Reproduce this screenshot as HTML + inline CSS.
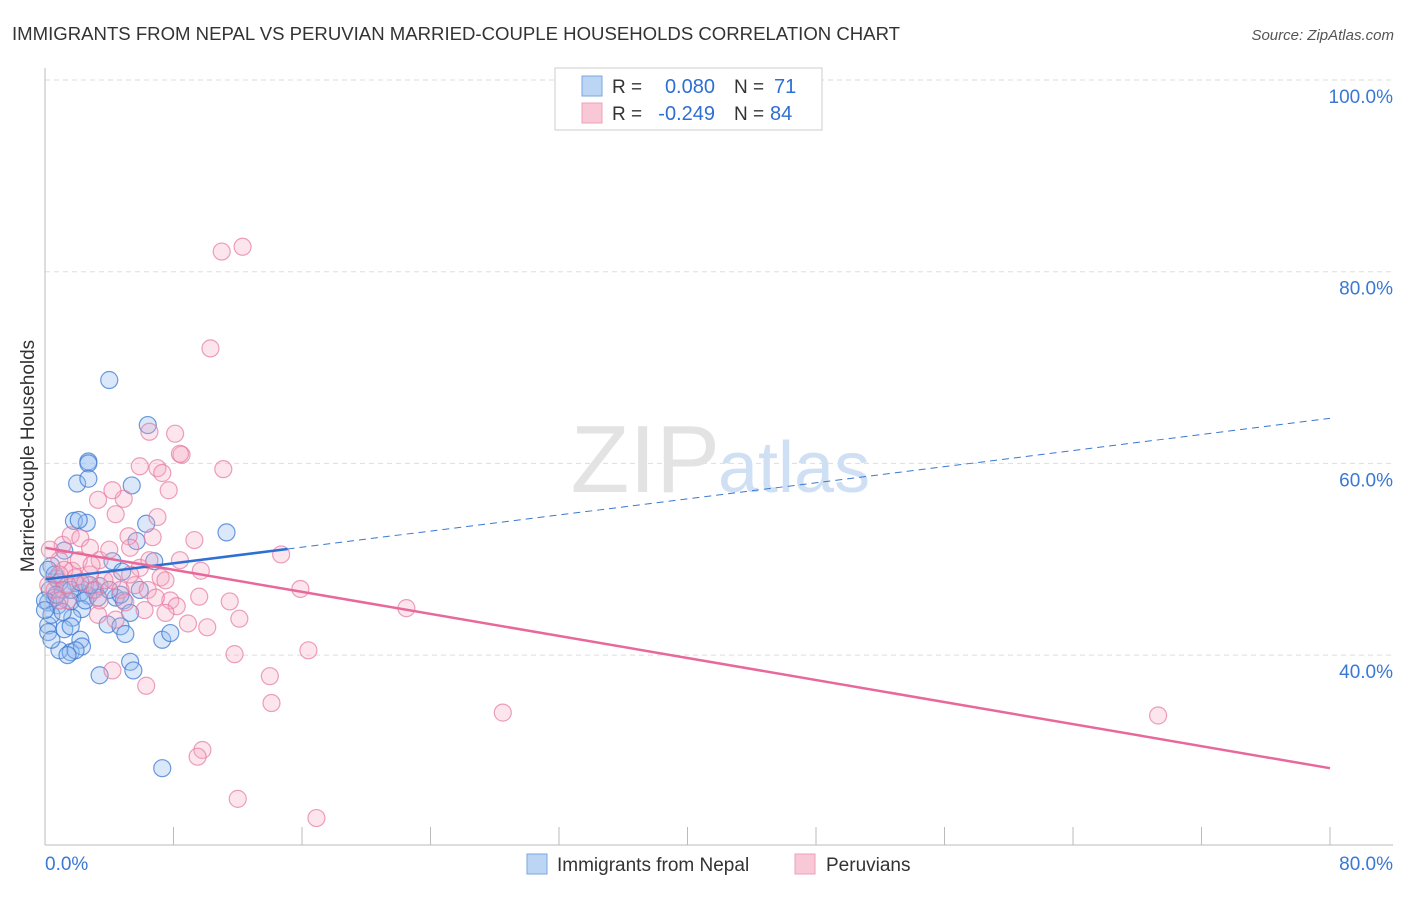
<!DOCTYPE html>
<html><head><meta charset="utf-8"><style>
body{margin:0;background:#fff;font-family:"Liberation Sans",sans-serif}
svg text{font-family:"Liberation Sans",sans-serif}
</style></head><body>
<svg id="chart" width="1406" height="892">
<text x="12" y="40" font-size="18" fill="#333" textLength="888" lengthAdjust="spacingAndGlyphs">IMMIGRANTS FROM NEPAL VS PERUVIAN MARRIED-COUPLE HOUSEHOLDS CORRELATION CHART</text>
<text x="1394" y="40" font-size="15" fill="#555" font-style="italic" text-anchor="end">Source: ZipAtlas.com</text>
<g id="grid"></g>
<text x="720" y="492" font-size="96" font-family="Liberation Serif" fill="#e3e3e3" text-anchor="end">ZIP</text>
<text x="718" y="492" font-size="72" fill="#cfe0f4">atlas</text>
<g id="points"></g>
<g id="lines"></g>
<line x1="45" y1="68" x2="45" y2="845" stroke="#bbb"/>
<line x1="45" y1="845" x2="1393" y2="845" stroke="#bbb"/>
<g id="axes"></g>
<text x="34" y="456" font-size="19" fill="#333" text-anchor="middle" transform="rotate(-90 34 456)">Married-couple Households</text>
<g>
<rect x="555" y="68" width="267" height="62" fill="#fff" stroke="#ccc"/>
<rect x="582" y="76" width="20" height="20" fill="#bcd5f5" stroke="#7aa6e0"/>
<rect x="582" y="103" width="20" height="20" fill="#f9c8d7" stroke="#eea0b8"/>
<text x="612" y="93" font-size="19" fill="#333">R =</text>
<text x="715" y="93" font-size="20" fill="#2e6fd4" text-anchor="end">0.080</text>
<text x="734" y="93" font-size="19" fill="#333">N =</text>
<text x="774" y="93" font-size="20" fill="#2e6fd4">71</text>
<text x="612" y="120" font-size="19" fill="#333">R =</text>
<text x="715" y="120" font-size="20" fill="#2e6fd4" text-anchor="end">-0.249</text>
<text x="734" y="120" font-size="19" fill="#333">N =</text>
<text x="770" y="120" font-size="20" fill="#2e6fd4">84</text>
</g>
<g>
<rect x="527" y="854" width="20" height="20" fill="#bcd5f5" stroke="#7aa6e0"/>
<text x="557" y="871" font-size="19" fill="#333">Immigrants from Nepal</text>
<rect x="795" y="854" width="20" height="20" fill="#f9c8d7" stroke="#eea0b8"/>
<text x="826" y="871" font-size="19" fill="#333">Peruvians</text>
</g>
</svg>
<script>
const nepalX=[4.0,6.4,2.7,2.7,2.0,2.7,5.4,1.8,2.6,2.1,6.3,11.3,5.7,1.2,4.2,6.8,4.8,0.4,0.7,0.9,1.9,0.3,3.0,3.4,2.2,0.6,1.6,4.4,4.9,2.7,0.2,0.8,2.3,5.3,1.7,0.2,1.2,1.6,3.9,4.7,5.0,2.2,0.2,0.9,1.6,2.3,3.4,5.3,5.5,7.3,7.8,7.3,0.6,1.1,0.0,0.4,2.5,3.3,1.9,1.4,0.4,0.2,2.8,4.7,5.9,1.1,0.7,1.6,4.0,0.0,2.2];
const nepalY=[68.7,64.0,60.2,60.0,57.9,58.4,57.7,54.0,53.8,54.1,53.7,52.8,51.9,50.9,49.8,49.8,48.7,49.3,48.0,47.6,47.5,46.8,46.8,47.2,46.5,46.0,45.6,46.0,45.7,46.2,45.5,45.2,44.8,44.4,43.9,43.1,42.7,43.0,43.2,43.0,42.2,41.6,42.4,40.5,40.3,40.9,37.9,39.3,38.4,41.6,42.3,28.2,48.4,46.8,45.7,44.2,45.7,46.0,40.5,40.0,41.6,48.9,47.3,46.3,46.8,44.5,46.3,46.8,46.8,44.7,47.6];
const peruX=[11.0,12.3,10.3,6.5,8.1,8.5,8.4,5.9,7.0,7.3,11.1,7.7,3.3,4.9,4.2,4.4,7.0,5.2,6.7,9.3,14.7,1.1,1.6,2.2,2.8,5.3,3.4,0.9,1.7,5.9,7.2,9.7,4.2,5.6,6.4,15.9,22.5,7.8,8.2,6.9,9.6,11.5,12.1,8.9,10.1,7.5,3.3,4.4,11.8,16.4,14.0,14.1,4.2,6.3,28.5,69.3,9.8,9.5,12.0,16.9,1.2,1.9,2.5,3.1,0.6,4.7,3.7,5.0,1.4,6.5,2.8,0.9,2.1,3.4,5.3,0.3,4.0,7.5,0.2,6.2,8.4,1.4,2.9,0.9];
const peruY=[82.1,82.6,72.0,63.3,63.1,60.9,61.0,59.7,59.5,59.0,59.4,57.2,56.2,56.3,57.2,54.7,54.4,52.4,52.3,52.0,50.5,51.5,52.5,52.2,51.2,51.2,49.9,49.9,48.8,49.1,48.1,48.8,47.8,47.3,46.8,46.9,44.9,45.7,45.1,46.0,46.1,45.6,43.8,43.3,42.9,44.4,44.2,43.7,40.1,40.5,37.8,35.0,38.4,36.8,34.0,33.7,30.1,29.4,25.0,23.0,48.9,48.1,47.5,46.8,46.8,46.8,47.8,45.5,45.7,49.9,48.4,45.7,49.9,45.7,48.4,51.0,51.0,47.8,47.3,44.7,49.9,47.3,49.4,48.4];
const nepalTrend=[47.9,64.7], nepalSolidEnd=15.1;
const peruTrend=[51.2,28.2];
const yTicks=[100,80,60,40];
const xTickVals=[0,8,16,24,32,40,48,56,64,72,80];
const NS='http://www.w3.org/2000/svg';
const sx=v=>45+v/80*1285;
const sy=v=>80+(100-v)/20*191.7;
function mk(t,a,p){const e=document.createElementNS(NS,t);for(const k in a)e.setAttribute(k,a[k]);p.appendChild(e);return e;}
const grid=document.getElementById('grid'),axes=document.getElementById('axes'),pts=document.getElementById('points'),lines=document.getElementById('lines');
yTicks.forEach(v=>{
 const l=mk('line',{x1:45,x2:1393,y1:sy(v),y2:sy(v),stroke:'#ddd','stroke-dasharray':'5,4'},grid);
 
 
 const t=mk('text',{x:1393,y:sy(v)+23,'font-size':19,fill:'#3a78d4','text-anchor':'end'},axes);
 t.textContent=v.toFixed(1)+'%';
 
 
});
xTickVals.forEach(v=>{
 const l=mk('line',{x1:sx(v),x2:sx(v),y1:827,y2:845,stroke:'#bbb'},axes);
 
 
});
[[0,'start'],[80,'end']].forEach(([v,a])=>{
 const t=mk('text',{x:v===0?45:1393,y:870,'font-size':19,fill:'#3a78d4','text-anchor':a},axes);
 t.textContent=v.toFixed(1)+'%';
 
 
});
nepalX.forEach((x,i)=>{
 const c=mk('circle',{cx:sx(x),cy:sy(nepalY[i]),r:8.5,fill:'rgba(150,190,240,0.35)',stroke:'rgba(60,120,210,0.75)','stroke-width':1.2},pts);
 
 
});
peruX.forEach((x,i)=>{
 const c=mk('circle',{cx:sx(x),cy:sy(peruY[i]),r:8.5,fill:'rgba(245,170,195,0.3)',stroke:'rgba(230,120,160,0.7)','stroke-width':1.2},pts);
 
 
});
const ny=x=>nepalTrend[0]+(nepalTrend[1]-nepalTrend[0])*x/80;
let l1=mk('line',{x1:sx(nepalSolidEnd),y1:sy(ny(nepalSolidEnd)),x2:sx(80),y2:sy(ny(80)),stroke:'#3a78d4','stroke-width':1,'stroke-dasharray':'7,5'},lines);


let l2=mk('line',{x1:sx(0),y1:sy(ny(0)),x2:sx(nepalSolidEnd),y2:sy(ny(nepalSolidEnd)),stroke:'#2e6fd4','stroke-width':2.5},lines);


let l3=mk('line',{x1:sx(0),y1:sy(peruTrend[0]),x2:sx(80),y2:sy(peruTrend[1]),stroke:'#e8689a','stroke-width':2.5},lines);


</script>
</body></html>
